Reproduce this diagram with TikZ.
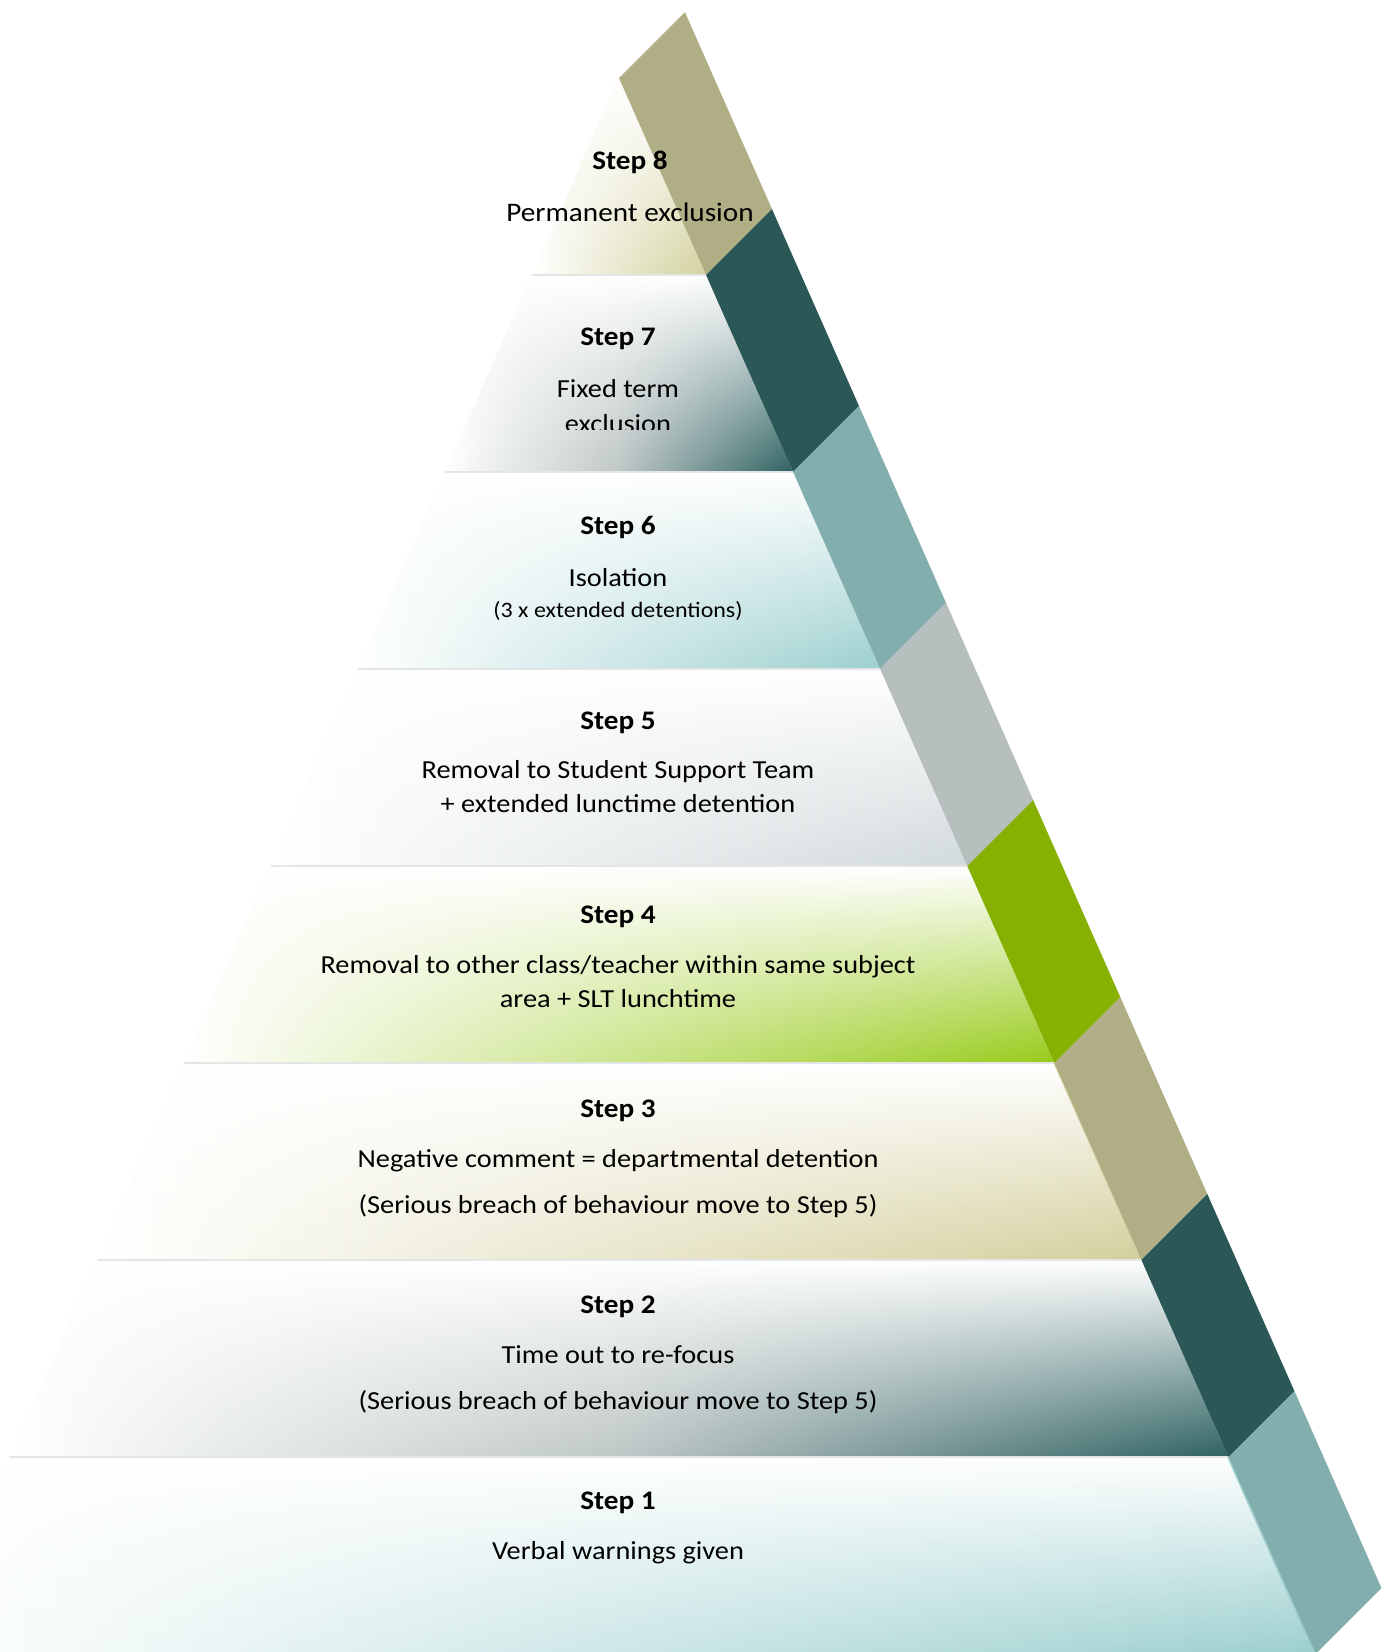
\documentclass[tikz,border=0pt]{standalone}
\usepackage{fontspec}
\setmainfont{Carlito}[FakeStretch=1.09]
\usetikzlibrary{fadings}
\definecolor{bandkhaki}{HTML}{AFAE84}
\definecolor{banddark}{HTML}{2B5857}
\definecolor{bandteal}{HTML}{82AFAD}
\definecolor{bandgray}{HTML}{B6BEBE}
\definecolor{bandgreen}{HTML}{86B102}
\definecolor{tkhaki}{HTML}{D3D29E}
\definecolor{tdark}{HTML}{2F6262}
\definecolor{tmid}{HTML}{BFC7C7}
\definecolor{tteal}{HTML}{9CCFCF}
\definecolor{tgray}{HTML}{D2DADC}
\definecolor{tgreen}{HTML}{98CB1A}
\definecolor{tkhakib}{HTML}{D4CF9C}
\definecolor{tierline}{HTML}{E4E6E6}
\tikzfading[name=topwhite, top color=transparent!0, middle color=transparent!62, bottom color=transparent!100]
\tikzset{
  tiereight/.style={left color=white,right color=tkhaki},
  tierseven/.style={left color=white,right color=tdark,middle color=tmid},
  tiersix/.style={left color=white,right color=tteal},
  tierfive/.style={left color=white,right color=tgray},
  tierfour/.style={left color=white,right color=tgreen},
  tierthree/.style={left color=white,right color=tkhakib},
  tiertwo/.style={left color=white,right color=tdark,middle color=tmid},
  tierone/.style={left color=white,right color=tteal},
  steptitle/.style={anchor=base,inner sep=0pt,font=\fontsize{13.4}{15}\selectfont\bfseries},
  steptext/.style={anchor=base,inner sep=0pt,font=\fontsize{13}{15}\selectfont},
  stepsmall/.style={anchor=base,inner sep=0pt,font=\fontsize{11}{12}\selectfont}
}
\begin{document}
\begin{tikzpicture}[x=0.5pt,y=-0.5pt]
\useasboundingbox (0,0) rectangle (1387,1652);
\begin{scope}
\clip (0,0) rectangle (1387,1652);
% tiers
\foreach \k/\sty in {0/tiereight,1/tierseven,2/tiersix,3/tierfive,4/tierfour,5/tierthree,6/tiertwo,7/tierone}{
  \pgfmathsetmacro\yt{78+197*\k}
  \pgfmathsetmacro\yb{78+197*(\k+1)}
  \pgfmathsetmacro\xlt{619-0.442*(\yt-78)}
  \pgfmathsetmacro\xrt{619+0.442*(\yt-78)}
  \pgfmathsetmacro\xlb{619-0.442*(\yb-78)}
  \pgfmathsetmacro\xrb{619+0.442*(\yb-78)}
  \shade[\sty] (\xlt,\yt) -- (\xrt,\yt) -- (\xrb,\yb) -- (\xlb,\yb) -- cycle;
  \fill[white,path fading=topwhite] (\xlt,\yt) -- (\xrt,\yt) -- (\xrb,\yb) -- (\xlb,\yb) -- cycle;
  \ifnum\k>0
    \draw[tierline,line width=1pt] (\xlt,\yt) -- (\xrt,\yt);
  \fi
}
% band segments
\foreach \k/\col in {0/bandkhaki,1/banddark,2/bandteal,3/bandgray,4/bandgreen,5/bandkhaki,6/banddark,7/bandteal}{
  \pgfmathsetmacro\yt{78+197*\k}
  \pgfmathsetmacro\yb{78+197*(\k+1)}
  \pgfmathsetmacro\xt{619+0.442*(\yt-78)}
  \pgfmathsetmacro\xb{619+0.442*(\yb-78)}
  \fill[\col] (\xt,\yt) -- (\xt+65.9,\yt-65.9) -- (\xb+65.9,\yb-65.9) -- (\xb,\yb) -- cycle;
}
\end{scope}
% texts
\node[steptitle] (s8) at (630,170) {Step 8};
\node[steptext,font=\fontsize{13.4}{15}\selectfont] (d8) at (630,222) {Permanent exclusion};
\node[steptitle] (s7) at (618,346) {Step 7};
\node[steptext] (d7a) at (618,398) {Fixed term};
\begin{scope}
\clip (0,0) rectangle (1387,430);
\node[steptext] (d7b) at (618,432) {exclusion};
\end{scope}
\node[steptitle] (s6) at (618,534) {Step 6};
\node[steptext] (d6a) at (618,586) {Isolation};
\node[stepsmall] (d6b) at (618,617) {(3 x extended detentions)};
\node[steptitle] (s5) at (618,729) {Step 5};
\node[steptext] (d5a) at (618,778) {Removal to Student Support Team};
\node[steptext] (d5b) at (618,812) {+ extended lunctime detention};
\node[steptitle] (s4) at (618,923) {Step 4};
\node[steptext] (d4a) at (618,973) {Removal to other class/teacher within same subject};
\node[steptext] (d4b) at (618,1007) {area + SLT lunchtime};
\node[steptitle] (s3) at (618,1117) {Step 3};
\node[steptext] (d3a) at (618,1167) {Negative comment = departmental detention};
\node[steptext] (d3b) at (618,1213) {(Serious breach of behaviour move to Step 5)};
\node[steptitle] (s2) at (618,1313) {Step 2};
\node[steptext] (d2a) at (618,1363) {Time out to re-focus};
\node[steptext] (d2b) at (618,1409) {(Serious breach of behaviour move to Step 5)};
\node[steptitle] (s1) at (618,1509) {Step 1};
\node[steptext] (d1) at (618,1559) {Verbal warnings given};
\end{tikzpicture}
\end{document}
